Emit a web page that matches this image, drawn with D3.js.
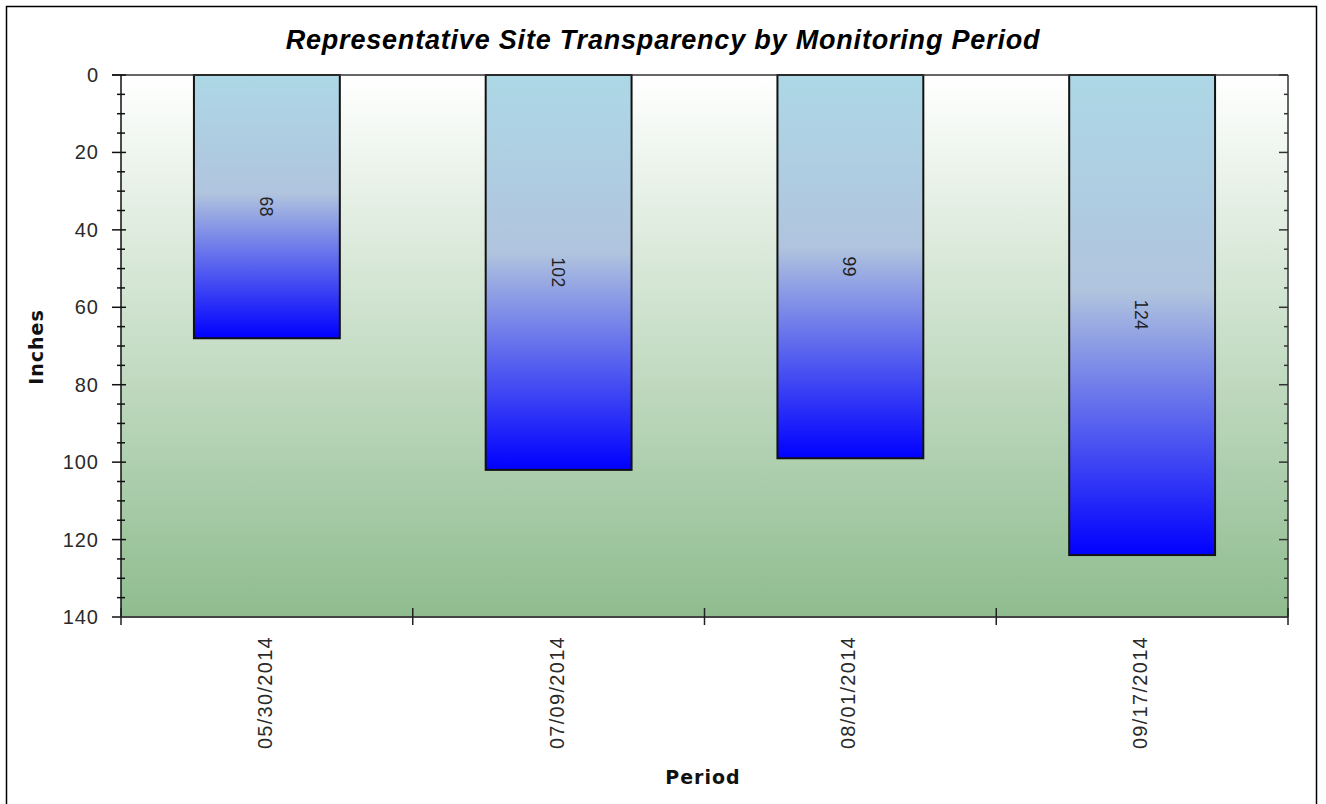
<!DOCTYPE html>
<html>
<head>
<meta charset="utf-8">
<script src="https://cdn.jsdelivr.net/npm/d3@7"></script>
<style>
  body { margin: 0; background: #fff; }
  svg text { font-family: "Liberation Sans", Arial, sans-serif; }
</style>
</head>
<body>
<div id="chart"></div>
<script>
// Data
const periods = ["05/30/2014", "07/09/2014", "08/01/2014", "09/17/2014"];
const depths = [68, 102, 99, 124];
const yTicks = [0, 20, 40, 60, 80, 100, 120, 140];

const W = 1326, H = 804;
const plot = { left: 121, right: 1288, top: 75, bottom: 617 };

const svg = d3.select("#chart").append("svg")
  .attr("width", W).attr("height", H);

const defs = svg.append("defs");

// plot background gradient
const bg = defs.append("linearGradient").attr("id", "bg-grad")
  .attr("x1", 0).attr("y1", 0).attr("x2", 0).attr("y2", 1);
bg.append("stop").attr("offset", "0%").attr("stop-color", "#ffffff");
bg.append("stop").attr("offset", "100%").attr("stop-color", "#8fbc8f");

// bar gradient
const bar = defs.append("linearGradient").attr("id", "bar-grad")
  .attr("x1", 0).attr("y1", 0).attr("x2", 0).attr("y2", 1);
bar.append("stop").attr("offset", "0%").attr("stop-color", "#add8e6");
bar.append("stop").attr("offset", "45%").attr("stop-color", "#b0c4de");
bar.append("stop").attr("offset", "100%").attr("stop-color", "#0000ff");

// outer frame
svg.append("rect")
  .attr("x", 6.5).attr("y", 6.5)
  .attr("width", 1310).attr("height", 820)
  .attr("fill", "none").attr("stroke", "#000").attr("stroke-width", 1.5);

// Scales
const x = d3.scaleBand().domain(periods)
  .range([plot.left, plot.right])
  .paddingInner(0.5).paddingOuter(0.25);
const y = d3.scaleLinear().domain([0, 140]).range([plot.top, plot.bottom]);

// background
svg.append("rect")
  .attr("x", plot.left).attr("y", plot.top)
  .attr("width", plot.right - plot.left)
  .attr("height", plot.bottom - plot.top)
  .attr("fill", "url(#bg-grad)");

// bars
svg.selectAll("rect.bar")
  .data(periods)
  .join("rect")
  .attr("class", "bar")
  .attr("x", (d) => x(d))
  .attr("y", y(0))
  .attr("width", x.bandwidth())
  .attr("height", (d, i) => y(depths[i]) - y(0))
  .attr("fill", "url(#bar-grad)")
  .attr("stroke", "#111")
  .attr("stroke-width", 2);

// bar value labels
svg.selectAll("text.val")
  .data(periods)
  .join("text")
  .attr("class", "val")
  .attr("transform", (d, i) =>
    `translate(${x(d) + x.bandwidth() / 2 - 1},${(y(0) + y(depths[i])) / 2}) rotate(90)`)
  .attr("text-anchor", "middle")
  .attr("dominant-baseline", "central")
  .style("font-size", "17.5px")
  .style("letter-spacing", "0.4px")
  .style("fill", "#222")
  .text((d, i) => depths[i]);

// top frame line
svg.append("line")
  .attr("x1", plot.left - 9).attr("x2", plot.right)
  .attr("y1", plot.top).attr("y2", plot.top)
  .attr("stroke", "#333").attr("stroke-width", 1.5);

// Left axis
const minor = d3.range(0, 141, 5);
const left = svg.append("g").attr("transform", `translate(${plot.left},0)`);
left.append("line").attr("y1", plot.top).attr("y2", plot.bottom)
  .attr("stroke", "#111").attr("stroke-width", 1.5);
left.selectAll("line.minor").data(minor).join("line")
  .attr("class", "minor")
  .attr("x1", (d) => (d % 20 === 0 ? -9 : -4))
  .attr("x2", (d) => (d % 20 === 0 ? 5 : 4))
  .attr("y1", (d) => y(d)).attr("y2", (d) => y(d))
  .attr("stroke", "#111").attr("stroke-width", 1.5);
left.selectAll("text").data(yTicks).join("text")
  .attr("x", -22).attr("y", (d) => y(d))
  .attr("text-anchor", "end")
  .attr("dominant-baseline", "central")
  .style("font-size", "20px")
  .style("letter-spacing", "1px")
  .style("fill", "#2a2a2a")
  .text((d) => d);

// Right axis (inward ticks)
const right = svg.append("g").attr("transform", `translate(${plot.right},0)`);
right.append("line").attr("y1", plot.top).attr("y2", plot.bottom)
  .attr("stroke", "#333").attr("stroke-width", 1.5);
right.selectAll("line.minor").data(minor).join("line")
  .attr("class", "minor")
  .attr("x1", (d) => (d % 20 === 0 ? -9 : -4)).attr("x2", 0)
  .attr("y1", (d) => y(d)).attr("y2", (d) => y(d))
  .attr("stroke", "#333").attr("stroke-width", 1.5);

// Bottom axis
const bottom = svg.append("g").attr("transform", `translate(0,${plot.bottom})`);
bottom.append("line").attr("x1", plot.left).attr("x2", plot.right)
  .attr("stroke", "#444").attr("stroke-width", 2);
const bounds = periods.map((d) => x(d) - x.step() * 0.25)
  .concat([plot.right]);
bottom.selectAll("line.tick").data(bounds).join("line")
  .attr("class", "tick")
  .attr("x1", (d) => d).attr("x2", (d) => d)
  .attr("y1", -9).attr("y2", 8)
  .attr("stroke", "#222").attr("stroke-width", 1.5);
bottom.selectAll("text").data(periods).join("text")
  .attr("transform", (d) =>
    `translate(${x(d) + x.bandwidth() / 2 - 2},${19}) rotate(-90)`)
  .attr("text-anchor", "end")
  .attr("dominant-baseline", "central")
  .style("font-size", "20px")
  .style("letter-spacing", "1.3px")
  .style("fill", "#2a2a2a")
  .text((d) => d);

// Title
svg.append("text")
  .attr("x", 663).attr("y", 49)
  .attr("text-anchor", "middle")
  .style("font-size", "27px")
  .style("letter-spacing", "0.8px")
  .style("font-weight", "bold")
  .style("font-style", "italic")
  .text("Representative Site Transparency by Monitoring Period");

// Axis titles
svg.append("text")
  .attr("transform", "translate(43,347) rotate(-90)")
  .attr("text-anchor", "middle")
  .style("font-family", "'DejaVu Sans', sans-serif")
  .style("font-size", "19px")
  .style("letter-spacing", "1px")
  .style("font-weight", "bold")
  .style("fill", "#111")
  .text("Inches");

svg.append("text")
  .attr("x", 703).attr("y", 784)
  .attr("text-anchor", "middle")
  .style("font-family", "'DejaVu Sans', sans-serif")
  .style("font-size", "19px")
  .style("letter-spacing", "1px")
  .style("font-weight", "bold")
  .style("fill", "#111")
  .text("Period");
</script>
</body>
</html>
